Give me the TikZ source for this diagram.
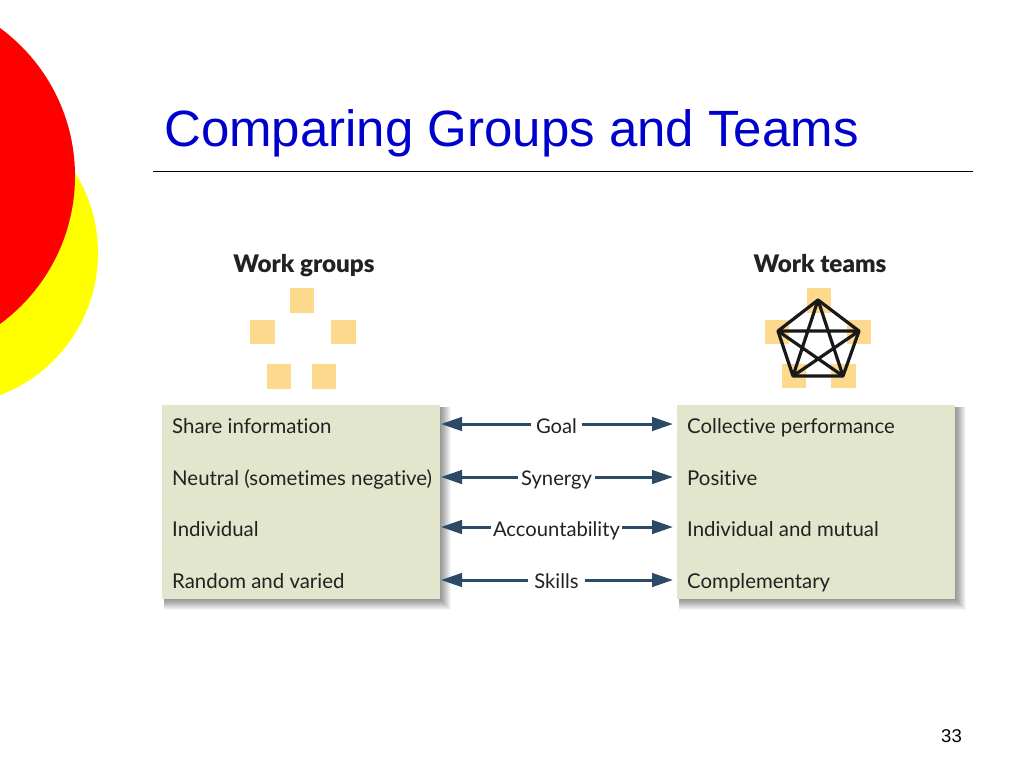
\documentclass[tikz,border=0pt]{standalone}
\usepackage{fontspec}
\setmainfont{Liberation Sans}
\newfontfamily\fig[Ligatures=NoCommon]{Lato}
\newfontfamily\figb{Lato Black}
\usetikzlibrary{arrows.meta}
\definecolor{titleblue}{HTML}{0000CC}
\definecolor{boxfill}{HTML}{E1E6CC}
\definecolor{sq}{HTML}{FCD98C}
\definecolor{arr}{HTML}{2C4A66}
\definecolor{ink}{HTML}{222222}
\definecolor{sun}{RGB}{255,255,0}
\tikzset{
  x=1pt,y=-1pt,
  sqbox/.style={fill=sq,draw=none,minimum size=24.5pt,inner sep=0pt,outer sep=0pt,rectangle},
  panel/.style={fill=boxfill,draw=none,rectangle,minimum width=278pt,minimum height=194pt,inner sep=0pt,outer sep=0pt},
  rowtext/.style={font=\fig\fontsize{20.4}{24}\selectfont,text=ink,anchor=base west,inner sep=0pt},
  midtext/.style={font=\fig\fontsize{20.2}{24}\selectfont,text=ink,anchor=base,inner sep=2.5pt,fill=white},
  headtext/.style={font=\figb\fontsize{24.2}{26}\selectfont,text=ink,anchor=base,inner sep=0pt},
  link/.style={draw=arr,line width=3pt,-{Triangle[length=21pt,width=13.5pt]}},
  web/.style={draw=black!90,line width=3.2pt,line join=round},
}
\newcommand{\softshadow}[4]{%
  \foreach \k in {0,...,19}{
    \fill[black,opacity=0.027] ({#1+2},{#2+2}) rectangle ({#3+11-\k*0.65},{#4+11-\k*0.65});
  }}
\begin{document}
\begin{tikzpicture}
\useasboundingbox (0,0) rectangle (1024,768);
\fill[white] (0,0) rectangle (1024,768);
% circles
\begin{scope}
\clip (0,0) rectangle (1024,768);
\fill[sun] (-54,253) circle[radius=152];
\fill[red] (-108.5,176) circle[radius=183.5];
\end{scope}
% title
\node[font=\fontsize{51}{56}\selectfont,text=titleblue,anchor=base west,inner sep=0pt] (title) at (164,146) {Comparing Groups and Teams};
\coordinate (ruleL) at (153,171);
\coordinate (ruleR) at (973,171);
\draw[black,line width=1pt] (ruleL) -- (ruleR);
% headers
\node[headtext] (hg) at (304,272) {Work groups};
\node[headtext] (ht) at (820,272) {Work teams};
% group squares
\node[sqbox] (g1) at (302,300.5) {};
\node[sqbox] (g2) at (262.5,332) {};
\node[sqbox] (g3) at (343.5,332) {};
\node[sqbox] (g4) at (279,376.5) {};
\node[sqbox] (g5) at (324,376.5) {};
% team squares
\node[sqbox] (t1) at (819,300.5) {};
\node[sqbox] (t2) at (777,332) {};
\node[sqbox] (t3) at (859,332) {};
\node[sqbox] (t4) at (794,376) {};
\node[sqbox] (t5) at (843.5,376) {};
% pentagon
\coordinate (p1) at (818,300);
\coordinate (p2) at (778,331);
\coordinate (p3) at (859,331);
\coordinate (p4) at (793,376);
\coordinate (p5) at (843,376);
\draw[web] (p1) -- (p3) -- (p5) -- (p4) -- (p2) -- cycle;
\draw[web] (p1) -- (p4) (p1) -- (p5) (p2) -- (p3) (p2) -- (p5) (p3) -- (p4);
% panels
\softshadow{162}{405}{440}{599}
\softshadow{677}{405}{955}{599}
\node[panel] (left) at (301,502) {};
\node[panel] (right) at (816,502) {};
% row text
\node[rowtext] (l1) at (172,433) {Share information};
\node[rowtext] (l2) at (172,485) {Neutral (sometimes negative)};
\node[rowtext] (l3) at (172,536) {Individual};
\node[rowtext] (l4) at (172,588) {Random and varied};
\node[rowtext] (r1) at (687,433) {Collective performance};
\node[rowtext] (r2) at (687,485) {Positive};
\node[rowtext] (r3) at (687,536) {Individual and mutual};
\node[rowtext] (r4) at (687,588) {Complementary};
% middle
\node[midtext,inner sep=5pt] (m1) at (556.5,433) {Goal};
\node[midtext] (m2) at (556.5,485) {Synergy};
\node[midtext,inner sep=2pt] (m3) at (556.5,536) {Accountability};
\node[midtext,inner sep=6pt] (m4) at (556.5,588) {Skills};
\foreach \i/\yy in {1/424,2/477,3/527,4/580}{
  \coordinate (la\i) at (441,\yy);
  \coordinate (ra\i) at (673,\yy);
  \draw[link] (m\i.west |- la\i) -- (la\i);
  \draw[link] (m\i.east |- ra\i) -- (ra\i);
}
% page number
\node[font=\fontsize{18.5}{20}\selectfont,text=black,anchor=base east,inner sep=0pt] (page) at (962,742) {33};
\end{tikzpicture}
\end{document}
